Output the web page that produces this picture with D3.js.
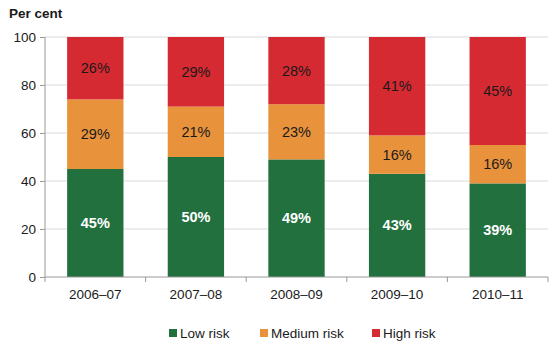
<!DOCTYPE html>
<html>
<head>
<meta charset="utf-8">
<script src="https://cdn.jsdelivr.net/npm/d3@7"></script>
<style>
  html, body { margin: 0; padding: 0; background: #fff; }
  svg { display: block; font-family: "Liberation Sans", Arial, sans-serif; }
</style>
</head>
<body>
<svg id="chart" width="560" height="348"></svg>
<script>
// Share of entities by risk rating, per financial year
const years = ["2006\u201307", "2007\u201308", "2008\u201309", "2009\u201310", "2010\u201311"];
const lowRisk = [45, 50, 49, 43, 39];
const mediumRisk = [29, 21, 23, 16, 16];
const highRisk = [26, 29, 28, 41, 45];
const seriesNames = ["Low risk", "Medium risk", "High risk"];
const seriesColors = ["#23703f", "#e8923c", "#d62a32"];
const labelColors = ["#ffffff", "#1a1a1a", "#1a1a1a"];
const yTicks = [0, 20, 40, 60, 80, 100];

const rows = years.map((y, i) => ({
  year: y, "Low risk": lowRisk[i], "Medium risk": mediumRisk[i], "High risk": highRisk[i]
}));

const svg = d3.select("#chart");
const margin = { left: 45, right: 12, top: 37, bottom: 71 };
const W = 560, H = 348;

const x = d3.scaleBand().domain(years).range([margin.left, W - margin.right]).paddingInner(0.44).paddingOuter(0.22);
const y = d3.scaleLinear().domain([0, 100]).range([H - margin.bottom, margin.top]);

// gridlines
svg.append("g").selectAll("line").data(yTicks.filter(d => d > 0)).join("line")
  .attr("x1", margin.left).attr("x2", W - margin.right)
  .attr("y1", d => y(d)).attr("y2", d => y(d))
  .attr("stroke", "#d9d9d9").attr("stroke-width", 1);

const stack = d3.stack().keys(seriesNames)(rows);

const layers = svg.append("g").selectAll("g").data(stack).join("g")
  .attr("fill", (d, i) => seriesColors[i]);

layers.selectAll("rect").data(d => d).join("rect")
  .attr("x", d => x(d.data.year))
  .attr("width", x.bandwidth())
  .attr("y", d => y(d[1]))
  .attr("height", d => y(d[0]) - y(d[1]));

// value labels inside segments
stack.forEach((layer, li) => {
  svg.append("g").selectAll("text").data(layer).join("text")
    .attr("x", d => x(d.data.year) + x.bandwidth() / 2)
    .attr("y", d => y((d[0] + d[1]) / 2))
    .attr("dy", "0.35em")
    .attr("text-anchor", "middle")
    .attr("font-size", 14.5)
    .attr("font-weight", li === 0 ? "bold" : "normal")
    .attr("fill", labelColors[li])
    .text(d => (d[1] - d[0]) + "%");
});

// y axis
const yAxis = svg.append("g").attr("transform", `translate(${margin.left},0)`)
  .call(d3.axisLeft(y).tickValues(yTicks).tickSize(5).tickPadding(4));
yAxis.select(".domain").attr("stroke", "#999").attr("d", `M0,${y(100)}V${y(0)}`);
yAxis.selectAll(".tick line").attr("stroke", "#999");
yAxis.selectAll(".tick text").attr("font-size", 13.5).attr("fill", "#1a1a1a")
  .attr("font-family", "Liberation Sans, Arial, sans-serif");

// x axis with ticks between categories
const xg = svg.append("g").attr("transform", `translate(0,${y(0)})`);
xg.append("line").attr("x1", margin.left).attr("x2", W - margin.right)
  .attr("stroke", "#999");
const step = x.step();
const bounds = d3.range(years.length + 1).map(i => margin.left + i * step);
xg.selectAll(".sep").data(bounds).join("line")
  .attr("x1", d => d).attr("x2", d => d).attr("y1", 0).attr("y2", 5)
  .attr("stroke", "#999");
xg.selectAll(".lbl").data(years).join("text")
  .attr("x", d => x(d) + x.bandwidth() / 2)
  .attr("y", 22)
  .attr("text-anchor", "middle")
  .attr("font-size", 13.5).attr("fill", "#1a1a1a")
  .text(d => d);

// axis title
svg.append("text").attr("x", 9).attr("y", 18)
  .attr("font-size", 13.5).attr("font-weight", "bold").attr("fill", "#1a1a1a")
  .text("Per cent");

// legend
const legendX = [169, 260, 372];
const lg = svg.append("g").selectAll("g").data(seriesNames).join("g")
  .attr("transform", (d, i) => `translate(${legendX[i]},328)`);
lg.append("rect").attr("width", 8).attr("height", 8).attr("y", 1)
  .attr("fill", (d, i) => seriesColors[i]);
lg.append("text").attr("x", 11).attr("y", 9.5)
  .attr("font-size", 13.5).attr("fill", "#1a1a1a").text(d => d);
</script>
</body>
</html>
